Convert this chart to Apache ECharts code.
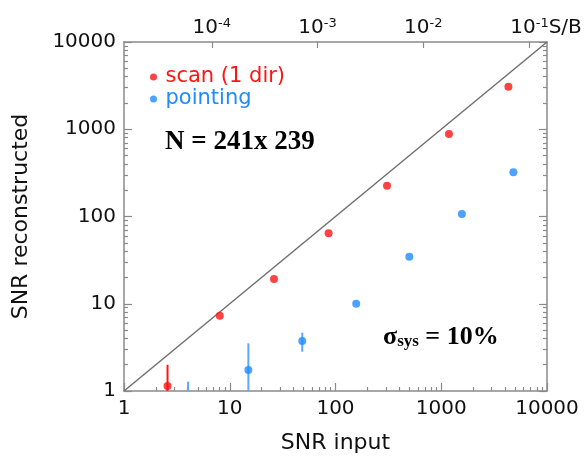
<!DOCTYPE html>
<html>
<head>
<meta charset="utf-8">
<script src="https://cdn.jsdelivr.net/npm/echarts@6/dist/echarts.min.js"></script>
<style>
  html, body { margin: 0; padding: 0; background: #ffffff; }
  #chart { width: 585px; height: 462px; }
</style>
</head>
<body>
<div id="chart"></div>
<script>
// Scan (1 direction): input SNR vs reconstructed SNR, with error bar ends
const scanSNR   = [2.58, 8.05, 26.2, 86, 307, 1183, 4315];
const scanRec   = [1.14, 7.3, 19.2, 64.3, 225, 883, 3075];
const scanErrLo = [0.5, 7.3, 19.2, 64.3, 225, 883, 3075];
const scanErrHi = [2.0, 7.3, 19.2, 64.3, 225, 883, 3075];

// Pointing: input SNR vs reconstructed SNR, with error bar ends
const pointSNR   = [4.04, 15, 48.5, 157, 499, 1567, 4810];
const pointRec   = [0.6, 1.74, 3.74, 10, 34.6, 107, 321];
const pointErrLo = [0.3, 0.5, 2.82, 10, 34.6, 107, 321];
const pointErrHi = [1.28, 3.52, 4.66, 10, 34.6, 107, 321];

// Equality line ends
const diagonal = [1, 10000];

// Secondary S/B scale: log10(S/B) at SNR input = 1, and labelled decades
const sbLogAtUnitSNR = -4.83;
const sbDecades = [-4, -3, -2, -1];

const RED = '#ff1414';
const BLUE = '#1e8cff';
const AXIS_GRAY = '#8a8a8a';
const SANS = '"DejaVu Sans", sans-serif';
const SERIF = '"Liberation Serif", "DejaVu Serif", serif';

const chart = echarts.init(document.getElementById('chart'), null, { renderer: 'canvas' });

function pairs(xs, ys) { return xs.map((x, i) => [x, ys[i]]); }
function triples(xs, lo, hi) { return xs.map((x, i) => [x, lo[i], hi[i]]); }

function errorBars(color) {
  return function (params, api) {
    const x = api.value(0);
    const p1 = api.coord([x, api.value(1)]);
    const p2 = api.coord([x, api.value(2)]);
    return {
      type: 'line',
      shape: { x1: p1[0], y1: p1[1], x2: p2[0], y2: p2[1] },
      style: { stroke: color, lineWidth: 2 }
    };
  };
}

// A log axis from 1 to 10000 with inward major and minor ticks
function snrAxis(position, extra) {
  const axis = {
    type: 'log',
    min: 1,
    max: 10000,
    position: position,
    splitLine: { show: false },
    axisLine: { show: true, lineStyle: { color: AXIS_GRAY, width: 1.5 } },
    axisTick: { show: true, inside: true, length: 8, lineStyle: { color: AXIS_GRAY, width: 1.2 } },
    minorTick: { show: true, splitNumber: 9, length: 4, lineStyle: { color: AXIS_GRAY, width: 1.2 } },
    axisLabel: {
      show: true,
      color: '#111',
      fontSize: 20,
      fontFamily: SANS,
      formatter: function (v) { return String(Math.round(v)); }
    }
  };
  return Object.assign(axis, extra || {});
}

const option = {
  animation: false,
  backgroundColor: '#ffffff',
  grid: { left: 124, right: 38, top: 42, bottom: 71 },
  legend: {
    orient: 'vertical',
    left: 150,
    top: 66,
    padding: 0,
    itemGap: 0,
    itemWidth: 14,
    itemHeight: 7,
    icon: 'circle',
    textStyle: { fontSize: 21, fontFamily: SANS, lineHeight: 22 },
    data: [
      { name: 'scan (1 dir)', textStyle: { color: RED } },
      { name: 'pointing', textStyle: { color: BLUE } }
    ]
  },
  xAxis: [
    snrAxis('bottom', {
      name: 'SNR input',
      nameLocation: 'middle',
      nameGap: 41,
      nameTextStyle: { color: '#111', fontSize: 22, fontFamily: SANS }
    }),
    {
      type: 'value',
      position: 'top',
      min: sbLogAtUnitSNR,
      max: sbLogAtUnitSNR + 4,
      splitLine: { show: false },
      axisLine: { show: true, lineStyle: { color: AXIS_GRAY, width: 1.5 } },
      axisTick: { show: true, inside: true, length: 6, customValues: sbDecades,
                  lineStyle: { color: AXIS_GRAY, width: 1.2 } },
      axisLabel: {
        show: true,
        margin: 4,
        customValues: sbDecades,
        formatter: function (v) {
          const e = Math.round(v);
          if (e === -1) return '{pad| }{b|10}{sup|' + e + '}{b|S/B}';
          return '{b|10}{sup|' + e + '}';
        },
        rich: {
          b: { fontSize: 20, fontFamily: SANS, color: '#111' },
          sup: { fontSize: 13, fontFamily: SANS, color: '#111', verticalAlign: 'top', padding: [0, 0, 8, 0] },
          pad: { width: 34, fontSize: 20 }
        }
      }
    }
  ],
  yAxis: [
    snrAxis('left', {
      name: 'SNR reconstructed',
      nameLocation: 'middle',
      nameGap: 92,
      nameTextStyle: { color: '#111', fontSize: 22, fontFamily: SANS }
    }),
    snrAxis('right', { axisLabel: { show: false } })
  ],
  graphic: [
    {
      type: 'text',
      left: 165,
      top: 129,
      style: {
        text: 'N = 241x 239',
        font: 'bold 27px ' + SERIF,
        fill: '#000'
      }
    },
    {
      type: 'text',
      left: 383,
      top: 324,
      style: {
        text: '{s|σ}{sub|sys}{s| = 10%}',
        fill: '#000',
        rich: {
          s: { fontSize: 26, fontWeight: 'bold', fontFamily: SERIF, fill: '#000' },
          sub: { fontSize: 17, fontWeight: 'bold', fontFamily: SERIF, fill: '#000', verticalAlign: 'bottom', padding: [6, 0, 0, 0] }
        }
      }
    }
  ],
  series: [
    {
      type: 'line',
      silent: true,
      xAxisIndex: 0,
      yAxisIndex: 0,
      data: pairs(diagonal, diagonal),
      symbol: 'none',
      lineStyle: { color: '#707070', width: 1.5 },
      z: 1
    },
    {
      type: 'custom',
      silent: true,
      xAxisIndex: 0,
      yAxisIndex: 0,
      clip: true,
      renderItem: errorBars(RED),
      data: triples(scanSNR, scanErrLo, scanErrHi),
      z: 2
    },
    {
      type: 'custom',
      silent: true,
      xAxisIndex: 0,
      yAxisIndex: 0,
      clip: true,
      renderItem: errorBars('#5aa9ff'),
      data: triples(pointSNR, pointErrLo, pointErrHi),
      z: 2
    },
    {
      name: 'scan (1 dir)',
      type: 'scatter',
      xAxisIndex: 0,
      yAxisIndex: 0,
      clip: true,
      symbol: 'circle',
      symbolSize: 8,
      itemStyle: { color: RED },
      data: pairs(scanSNR, scanRec),
      z: 3
    },
    {
      name: 'pointing',
      type: 'scatter',
      xAxisIndex: 0,
      yAxisIndex: 0,
      clip: true,
      symbol: 'circle',
      symbolSize: 8,
      itemStyle: { color: BLUE },
      data: pairs(pointSNR, pointRec),
      z: 3
    }
  ]
};

chart.setOption(option);
</script>
</body>
</html>
